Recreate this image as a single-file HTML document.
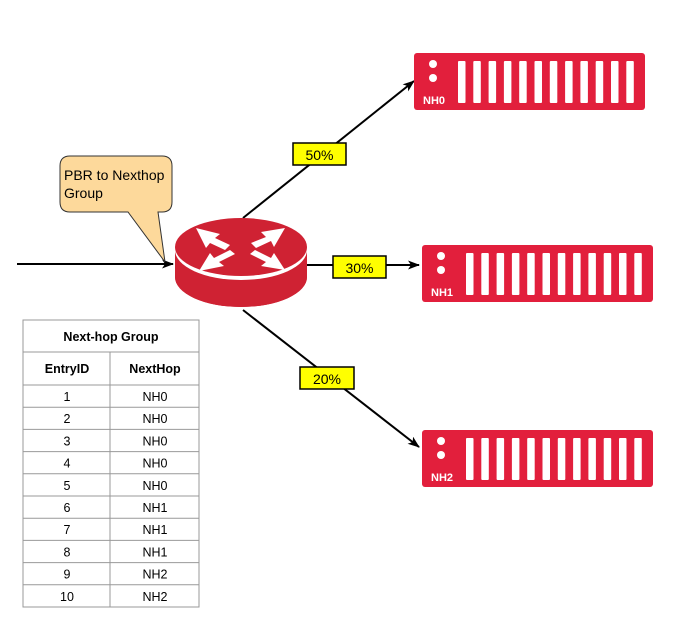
<!DOCTYPE html>
<html><head><meta charset="utf-8"><style>
body{margin:0;background:#fff;width:686px;height:615px;overflow:hidden;font-family:"Liberation Sans",sans-serif}
</style></head><body>
<svg width="686" height="615" xmlns="http://www.w3.org/2000/svg" font-family="Liberation Sans, sans-serif">
<defs><marker id="ar" markerWidth="12" markerHeight="9" refX="11" refY="4.5" orient="auto" markerUnits="userSpaceOnUse"><path d="M0,0 L12,4.5 L0,9 L3,4.5z" fill="#000"/></marker></defs>
<line x1="17" y1="264" x2="173" y2="264" stroke="#000" stroke-width="2" marker-end="url(#ar)"/>
<line x1="243" y1="218" x2="414" y2="81" stroke="#000" stroke-width="2" marker-end="url(#ar)"/>
<line x1="307" y1="265" x2="419" y2="265" stroke="#000" stroke-width="2" marker-end="url(#ar)"/>
<line x1="243" y1="310" x2="419" y2="447" stroke="#000" stroke-width="2" marker-end="url(#ar)"/>
<g>
<path d="M70,156 H162 Q172,156 172,166 V202 Q172,212 162,212 H158 L165,262 L128,212 H70 Q60,212 60,202 V166 Q60,156 70,156Z" fill="#fdd99b" stroke="#333" stroke-width="1"/>
<text x="64" y="180" font-size="14">PBR to Nexthop</text>
<text x="64" y="198" font-size="14">Group</text>
</g>
<g>
<path d="M175,247 V277 A66,30 0 0 0 307,277 V247Z" fill="#cf2233"/>
<ellipse cx="241" cy="277" rx="66" ry="30" fill="#cf2233"/>
<ellipse cx="241" cy="250" rx="66" ry="30" fill="#fff"/>
<ellipse cx="241" cy="247" rx="66" ry="29" fill="#cf2233"/>
<g fill="#fff">
<path d="M196,228 L220,234 L215,238 L230,245 L225,250 L210,243 L206,248Z"/>
<path d="M285,228 L261,232 L266,237 L251,243 L256,248 L271,241 L274,247Z"/>
<path d="M199,271 L224,266 L219,262 L235,254 L230,250 L214,258 L210,253Z"/>
<path d="M285,270 L261,266 L266,262 L250,254 L255,250 L271,258 L274,253Z"/>
</g></g>
<g><rect x="293" y="143" width="53" height="22" fill="#ff0" stroke="#000" stroke-width="1.5"/><text x="319.5" y="160" font-size="14" text-anchor="middle">50%</text></g>
<g><rect x="333" y="256" width="53" height="22" fill="#ff0" stroke="#000" stroke-width="1.5"/><text x="359.5" y="273" font-size="14" text-anchor="middle">30%</text></g>
<g><rect x="300" y="367" width="54" height="22" fill="#ff0" stroke="#000" stroke-width="1.5"/><text x="327" y="384" font-size="14" text-anchor="middle">20%</text></g>
<g id="servers"></g>
<g font-size="12.5" stroke="none">
<rect x="23" y="320" width="176" height="287" fill="#fff" stroke="#999"/>
<text x="111" y="341" text-anchor="middle" font-weight="bold">Next-hop Group</text>
<line x1="23" y1="352" x2="199" y2="352" stroke="#999"/>
<line x1="110" y1="352" x2="110" y2="607" stroke="#999"/>
<line x1="23" y1="385" x2="199" y2="385" stroke="#999"/>
<text x="67" y="373" text-anchor="middle" font-weight="bold">EntryID</text>
<text x="155" y="373" text-anchor="middle" font-weight="bold">NextHop</text>
<g id="rows"></g>
</g>
</svg>
<script>
const servers=[["NH0",414,53],["NH1",422,245],["NH2",422,430]];
const entries=[1,2,3,4,5,6,7,8,9,10];
const hops=["NH0","NH0","NH0","NH0","NH0","NH1","NH1","NH1","NH2","NH2"];
const NS="http://www.w3.org/2000/svg";
function mk(t,a,p){const e=document.createElementNS(NS,t);for(const k in a)e.setAttribute(k,a[k]);p.appendChild(e);return e;}
const sg=document.getElementById('servers');
servers.forEach(s=>{
 const g=mk('g',{},sg);
 
 
 const x=s[1],y=s[2];
 mk('rect',{x:x,y:y,width:231,height:57,rx:3,fill:'#e21f3c'},g);
 mk('circle',{cx:x+19,cy:y+11,r:4,fill:'#fff'},g);
 mk('circle',{cx:x+19,cy:y+25,r:4,fill:'#fff'},g);
 for(let i=0;i<12;i++)mk('rect',{x:x+44+i*15.3,y:y+8,width:7.5,height:42,rx:1,fill:'#fff'},g);
 const t=mk('text',{x:x+9,y:y+51,'font-size':11,'font-weight':'bold',fill:'#fff'},g);t.textContent=s[0];
});
const rg=document.getElementById('rows');
entries.forEach((e,i)=>{
 const y=385+i*22.2;
 const g=mk('g',{},rg);
 
 
 if(i>0)mk('line',{x1:23,y1:y,x2:199,y2:y,stroke:'#999'},g);
 let t=mk('text',{x:67,y:y+16,'text-anchor':'middle'},g);t.textContent=e;
 t=mk('text',{x:155,y:y+16,'text-anchor':'middle'},g);t.textContent=hops[i];
});
</script>
</body></html>
